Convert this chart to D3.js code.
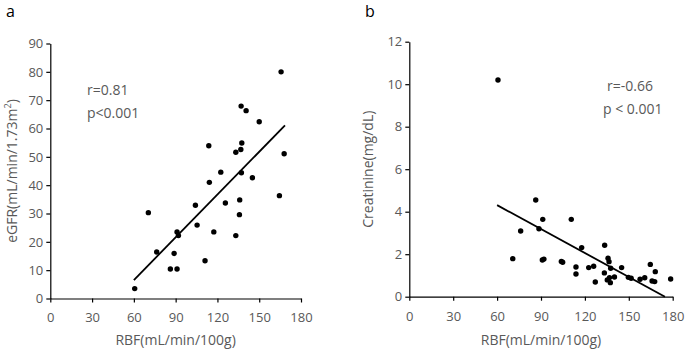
<!DOCTYPE html>
<html>
<head>
<meta charset="utf-8">
<script src="https://cdn.jsdelivr.net/npm/d3@7"></script>
<style>
  body { margin: 0; background: #fff; }
  text { font-family: "Open Sans", sans-serif; }
</style>
</head>
<body>
<svg id="chart" width="685" height="359"></svg>
<script>
// panel a: RBF vs eGFR
let rbfA = [165.7, 137, 140.6, 150, 113.8, 137.5, 136.8, 133.2, 167.9, 122.4, 137.2, 145.1,
    114.2, 164.5, 136, 125.7, 104.2, 135.8, 70.4, 105.4, 91, 117.4, 92, 133.2, 76.4, 88.9,
    111.1, 86.2, 91, 60.6];
let egfrA = [80, 67.9, 66.3, 62.4, 53.9, 54.9, 52.6, 51.6, 51.1, 44.6, 44.4, 42.6,
    41, 36.3, 34.8, 33.7, 32.9, 29.6, 30.3, 25.9, 23.5, 23.5, 22.2, 22.2, 16.4, 15.9,
    13.3, 10.4, 10.4, 3.5];
let fitA = [[60, 6.5], [168.5, 61.1]];

// panel b: RBF vs creatinine
let rbfB = [60.6, 86.4, 91.2, 110.7, 76.1, 88.6, 133.5, 117.8, 135.8, 136.5, 70.7, 92,
    90.9, 103.9, 104.8, 113.9, 113.9, 122.6, 126, 137.6, 145.1, 133.3, 140.2, 136.8,
    135.3, 137.4, 127.1, 149.7, 151.6, 157.7, 160.9, 164.7, 168.1, 165.9, 167.7, 178.6];
let creatB = [10.2, 4.55, 3.64, 3.64, 3.09, 3.2, 2.42, 2.31, 1.81, 1.65, 1.79, 1.77,
    1.73, 1.66, 1.62, 1.40, 1.07, 1.37, 1.43, 1.34, 1.37, 1.12, 0.93, 0.90,
    0.79, 0.66, 0.69, 0.91, 0.87, 0.82, 0.89, 1.52, 1.18, 0.74, 0.71, 0.83];
let fitB = [[60, 4.31], [174.7, 0]];

let xTicks = [0, 30, 60, 90, 120, 150, 180];
let yTicksA = [0, 10, 20, 30, 40, 50, 60, 70, 80, 90];
let yTicksB = [0, 2, 4, 6, 8, 10, 12];

let svg = d3.select("#chart");
let grey = "#595959";

let panel = (opt) => {
    let x = d3.scaleLinear().domain([0, 180]).range([opt.left, opt.right]);
    let y = d3.scaleLinear().domain(opt.yDomain).range([opt.bottom, opt.top]);
    let g = svg.append("g");

    let xAxis = g.append("g")
        .attr("transform", "translate(0," + opt.bottom + ")")
        .call(d3.axisBottom(x).tickValues(xTicks).tickSize(4).tickSizeOuter(0));
    let yAxis = g.append("g")
        .attr("transform", "translate(" + opt.left + ",0)")
        .call(d3.axisLeft(y).tickValues(opt.yTicks).tickSize(4).tickSizeOuter(0));
    [xAxis, yAxis].forEach((a) => {
        a.select(".domain").attr("stroke", "#000").attr("stroke-width", 1.2);
        a.selectAll(".tick line").attr("stroke", "#000").attr("stroke-width", 1.2);
        a.selectAll(".tick text")
            .attr("fill", grey)
            .style("font-size", "13px")
            .style("font-family", "Open Sans, sans-serif");
    });
    xAxis.selectAll(".tick text").attr("dy", "1.3em");
    yAxis.selectAll(".tick text").attr("x", -7);

    g.append("line")
        .attr("x1", x(opt.fit[0][0])).attr("y1", y(opt.fit[0][1]))
        .attr("x2", x(opt.fit[1][0])).attr("y2", y(opt.fit[1][1]))
        .attr("stroke", "#000")
        .attr("stroke-width", 1.8);

    g.selectAll("circle")
        .data(opt.xs)
        .enter()
        .append("circle")
        .attr("cx", (d) => x(d))
        .attr("cy", (d, i) => y(opt.ys[i]))
        .attr("r", 2.7)
        .attr("fill", "#000");

    g.append("text")
        .attr("x", (opt.left + opt.right) / 2)
        .attr("y", 345)
        .attr("text-anchor", "middle")
        .attr("fill", grey)
        .style("font-size", "14px")
        .text("RBF(mL/min/100g)");

    let yl = g.append("text")
        .attr("transform", "translate(" + opt.yLabelX + "," + (opt.top + opt.bottom) / 2 + ") rotate(-90)")
        .attr("text-anchor", "middle")
        .attr("fill", grey)
        .style("font-size", "14px");
    opt.yLabel(yl);

    opt.stats.forEach((s) => {
        g.append("text")
            .attr("x", s.x)
            .attr("y", s.y)
            .attr("fill", grey)
            .style("font-size", "14px")
            .text(s.t);
    });

    g.append("text")
        .attr("x", opt.letterX)
        .attr("y", 17)
        .attr("fill", "#000")
        .style("font-size", "16px")
        .text(opt.letter);
};

panel({
    left: 50.3, right: 301, top: 43.5, bottom: 298.5,
    yDomain: [0, 90], yTicks: yTicksA, xs: rbfA, ys: egfrA, fit: fitA,
    yLabelX: 17,
    yLabel: (t) => {
        t.append("tspan").text("eGFR(mL/min/1.73m");
        t.append("tspan").attr("baseline-shift", "super").style("font-size", "9px").text("2");
        t.append("tspan").text(")");
    },
    stats: [{x: 87, y: 95, t: "r=0.81"}, {x: 87, y: 118, t: "p<0.001"}],
    letter: "a", letterX: 6
});

panel({
    left: 409.3, right: 672.7, top: 41.7, bottom: 296.7,
    yDomain: [0, 12], yTicks: yTicksB, xs: rbfB, ys: creatB, fit: fitB,
    yLabelX: 373,
    yLabel: (t) => {
        t.text("Creatinine(mg/dL)");
    },
    stats: [{x: 607, y: 91, t: "r=-0.66"}, {x: 603, y: 114, t: "p < 0.001"}],
    letter: "b", letterX: 365
});
</script>
</body>
</html>
